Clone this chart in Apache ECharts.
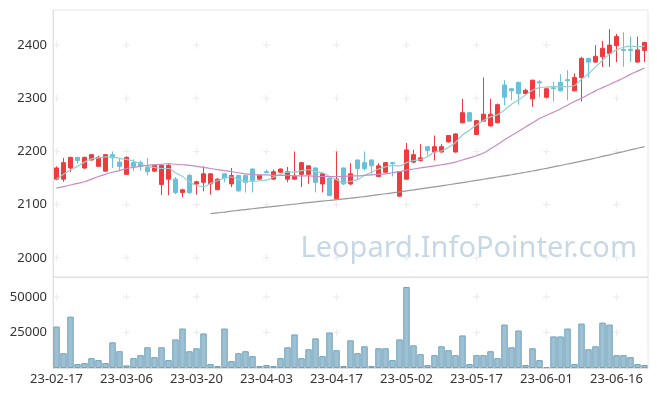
<!DOCTYPE html>
<html><head><meta charset="utf-8">
<script src="https://cdn.jsdelivr.net/npm/echarts@6/dist/echarts.min.js"></script>
<style>html,body{margin:0;padding:0;background:#fff}#c{width:657px;height:396px}</style>
</head><body><div id="c"></div>
<script>
const dates = ['23-02-17','23-02-20','23-02-21','23-02-22','23-02-23','23-02-24','23-02-27','23-02-28','23-03-02','23-03-03',
'23-03-06','23-03-07','23-03-08','23-03-09','23-03-10','23-03-13','23-03-14','23-03-15','23-03-16','23-03-17',
'23-03-20','23-03-21','23-03-22','23-03-23','23-03-24','23-03-27','23-03-28','23-03-29','23-03-30','23-03-31',
'23-04-03','23-04-04','23-04-05','23-04-06','23-04-07','23-04-10','23-04-11','23-04-12','23-04-13','23-04-14',
'23-04-17','23-04-18','23-04-19','23-04-20','23-04-21','23-04-24','23-04-25','23-04-26','23-04-27','23-04-28',
'23-05-02','23-05-03','23-05-04','23-05-08','23-05-09','23-05-10','23-05-11','23-05-12','23-05-15','23-05-16',
'23-05-17','23-05-18','23-05-19','23-05-22','23-05-23','23-05-24','23-05-25','23-05-26','23-05-30','23-05-31',
'23-06-01','23-06-02','23-06-05','23-06-07','23-06-08','23-06-09','23-06-12','23-06-13','23-06-14','23-06-15',
'23-06-16','23-06-19','23-06-20','23-06-21','23-06-22'];
const opens = [2148,2148,2169,2189,2169,2184,2172,2163,2194,2180,
2157,2179,2179,2170,2163,2138,2148,2148,2123,2155,
2139,2142,2139,2128,2158,2139,2155,2155,2167,2148,
2162,2148,2161,2148,2148,2157,2157,2169,2139,2150,
2111,2169,2139,2184,2179,2184,2153,2161,2179,2116,
2148,2180,2183,2209,2199,2199,2218,2199,2254,2273,
2232,2257,2248,2254,2325,2318,2330,2309,2299,2331,
2302,2320,2330,2335,2314,2339,2375,2368,2378,2384,
2399,2392,2392,2368,2390];
const closes = [2169,2179,2189,2183,2189,2194,2189,2194,2188,2172,
2189,2172,2172,2162,2174,2174,2174,2123,2128,2123,
2143,2158,2158,2148,2150,2155,2126,2142,2145,2155,
2160,2162,2167,2162,2154,2179,2173,2142,2158,2117,
2148,2139,2158,2168,2168,2173,2173,2179,2177,2162,
2203,2194,2188,2202,2209,2209,2230,2233,2273,2257,
2258,2270,2270,2288,2302,2314,2309,2315,2334,2329,
2318,2318,2314,2333,2339,2375,2368,2379,2394,2400,
2416,2390,2390,2391,2405];
const lows = [2146,2143,2161,2177,2167,2183,2171,2162,2169,2164,
2156,2163,2164,2155,2162,2118,2118,2120,2114,2120,
2119,2125,2119,2127,2142,2133,2124,2123,2123,2147,
2159,2146,2160,2142,2147,2133,2139,2123,2123,2116,
2110,2137,2137,2148,2164,2158,2152,2160,2153,2115,
2147,2178,2181,2192,2183,2198,2217,2198,2253,2256,
2231,2256,2247,2253,2287,2296,2288,2307,2284,2302,
2300,2294,2313,2296,2313,2294,2339,2367,2359,2359,
2368,2359,2368,2367,2368];
const highs = [2172,2188,2190,2190,2190,2195,2192,2195,2200,2186,
2191,2185,2183,2188,2175,2176,2176,2152,2130,2158,
2145,2172,2159,2150,2159,2169,2156,2156,2168,2156,
2166,2166,2168,2171,2200,2180,2174,2170,2159,2152,
2200,2170,2178,2185,2200,2185,2178,2180,2180,2163,
2216,2203,2214,2210,2230,2214,2231,2234,2299,2274,
2259,2339,2299,2290,2334,2319,2331,2318,2335,2334,
2319,2331,2345,2353,2347,2378,2376,2400,2408,2430,
2421,2424,2416,2416,2406];
const volumes = [29167,10417,36111,2778,3472,6944,5556,3472,18056,11806,
1852,6944,9028,14583,7639,14583,5556,20139,27778,11806,
13889,24306,2778,1389,27778,4861,10417,11806,8333,1389,
2083,1389,6944,14583,23611,6944,13194,20833,8333,25000,
12500,1389,19444,10417,15278,1389,13889,13889,5556,20139,
56944,15972,9722,2083,9028,15278,12500,9028,22917,2778,
9028,9028,11806,6944,30556,14583,26389,2083,13889,5556,
600,22222,22222,27778,2778,31250,13194,15278,31944,30556,
9028,9028,7639,2778,2083];
const ma5 = [2148,2157,2165,2172,2180,2186,2188,2190,2190,2187,
2185,2182,2177,2172,2170,2168,2168,2160,2153,2143,
2136,2134,2140,2145,2150,2152,2147,2144,2144,2145,
2146,2152,2157,2161,2161,2164,2166,2162,2160,2153,
2147,2141,2144,2147,2155,2161,2167,2171,2174,2173,
2179,2183,2185,2190,2199,2201,2208,2217,2231,2240,
2250,2258,2265,2269,2278,2289,2297,2306,2315,2320,
2321,2322,2322,2322,2324,2336,2346,2359,2371,2383,
2391,2396,2398,2397,2398];
const ma20 = [2131,2134,2137,2140,2143,2148,2153,2157,2161,2164,
2168,2170,2172,2174,2175,2176,2177,2176,2175,2174,
2172,2170,2168,2166,2164,2162,2160,2158,2157,2156,
2156,2155,2155,2155,2154,2154,2154,2153,2153,2153,
2153,2153,2154,2154,2155,2156,2157,2158,2160,2162,
2165,2167,2169,2171,2173,2175,2177,2180,2184,2188,
2192,2197,2205,2213,2222,2230,2238,2246,2254,2262,
2268,2274,2280,2287,2294,2300,2307,2314,2320,2326,
2332,2338,2345,2351,2357];
const ma60 = [null,null,null,null,null,null,null,null,null,null,
null,null,null,null,null,null,null,null,null,null,
null,null,2083,2084.5,2086,2087.7,2089.3,2090.8,2092.3,2093.8,
2095.3,2096.7,2098.1,2099.6,2101,2102.5,2104,2105.4,2106.7,2108,
2109.4,2110.8,2112.2,2113.7,2115.2,2116.9,2118.7,2120.5,2122.3,2124.1,
2126,2127.8,2129.7,2131.6,2133.5,2135.4,2137.4,2139.4,2141.5,2143.6,
2145.7,2147.8,2149.9,2152,2154.1,2156.3,2158.6,2160.9,2163.3,2165.8,
2168.3,2171,2173.7,2176.4,2179.1,2181.9,2184.8,2187.7,2190.7,2193.7,
2196.8,2199.8,2202.9,2206,2209];
const priceTicks = [2000,2100,2200,2300,2400];
const volumeTicks = [25000,50000];
const labelEvery = 10;

const candleData = dates.map((d,i)=>[opens[i],closes[i],lows[i],highs[i]]);
const tickIdx = dates.map((d,i)=>i).filter(i=>i%labelEvery===0);
const crossTop = [], crossBot = [];
tickIdx.forEach(i=>{ priceTicks.forEach(v=>crossTop.push([i,v])); volumeTicks.forEach(v=>crossBot.push([i,v])); });
const crossSym = 'path://M2.5,0H3.5V2.5H6V3.5H3.5V6H2.5V3.5H0V2.5H2.5Z';
const font = 'Noto Sans';
const plain = v => String(v);

const chart = echarts.init(document.getElementById('c'), null, {renderer:'canvas'});
chart.setOption({
  animation:false,
  backgroundColor:'#fff',
  textStyle:{fontFamily:font},
  graphic:[{type:'text', right:20, top:234, z:0, silent:true,
    style:{text:'Leopard.InfoPointer.com', fill:'#c6d8e5', font:'29px "Noto Sans"'}}],
  grid:[
    {left:53, right:9, top:10, height:267, show:true, borderColor:'#e6e6e6', borderWidth:1},
    {left:53, right:9, top:277, height:91, show:true, borderColor:'#e6e6e6', borderWidth:1}
  ],
  xAxis:[
    {type:'category', gridIndex:0, data:dates, boundaryGap:true,
     axisLine:{show:true, lineStyle:{color:'#e0e0e0'}}, axisTick:{show:false}, axisLabel:{show:false}, splitLine:{show:false}},
    {type:'category', gridIndex:1, data:dates, boundaryGap:true,
     axisLine:{show:true, lineStyle:{color:'#e0e0e0'}}, axisTick:{show:false},
     axisLabel:{interval:labelEvery-1, color:'#333', fontSize:13, margin:5, fontFamily:font}, splitLine:{show:false}}
  ],
  yAxis:[
    {type:'value', gridIndex:0, min:1964, max:2466, scale:true,
     axisLine:{show:true, lineStyle:{color:'#e0e0e0'}}, axisTick:{show:false}, splitLine:{show:false},
     axisLabel:{customValues:priceTicks, formatter:plain, color:'#333', fontSize:13, margin:6, fontFamily:font}},
    {type:'value', gridIndex:1, min:0, max:64000, interval:25000,
     axisLine:{show:true, lineStyle:{color:'#e0e0e0'}}, axisTick:{show:false}, splitLine:{show:false},
     axisLabel:{showMinLabel:false, showMaxLabel:false, formatter:plain, color:'#333', fontSize:13, margin:6, fontFamily:font}}
  ],
  series:[
    {type:'scatter', xAxisIndex:0, yAxisIndex:0, data:crossTop, symbol:crossSym, symbolSize:7, silent:true, z:1,
     itemStyle:{color:'#e8e8e8'}},
    {type:'scatter', xAxisIndex:1, yAxisIndex:1, data:crossBot, symbol:crossSym, symbolSize:7, silent:true, z:1,
     itemStyle:{color:'#e8e8e8'}},
    {type:'candlestick', xAxisIndex:0, yAxisIndex:0, data:candleData, barWidth:'70%', z:3,
     itemStyle:{color:'#ee3b3e', color0:'#68c0da', borderColor:'#ee3b3e', borderColor0:'#68c0da', borderWidth:1}},
    {type:'line', xAxisIndex:0, yAxisIndex:0, data:ma5, smooth:0.4, symbol:'none', z:4,
     lineStyle:{color:'#92d1cd', width:1.2}},
    {type:'line', xAxisIndex:0, yAxisIndex:0, data:ma20, smooth:0.4, symbol:'none', z:4,
     lineStyle:{color:'#c98bc6', width:1.2}},
    {type:'line', xAxisIndex:0, yAxisIndex:0, data:ma60, smooth:0.4, symbol:'none', z:4,
     lineStyle:{color:'#999999', width:1.2}},
    {type:'bar', xAxisIndex:1, yAxisIndex:1, data:volumes, barCategoryGap:'8%', z:3,
     itemStyle:{color:'#9dc1d2', borderColor:'#72a3ba', borderWidth:1}}
  ]
});
</script>
</body></html>
